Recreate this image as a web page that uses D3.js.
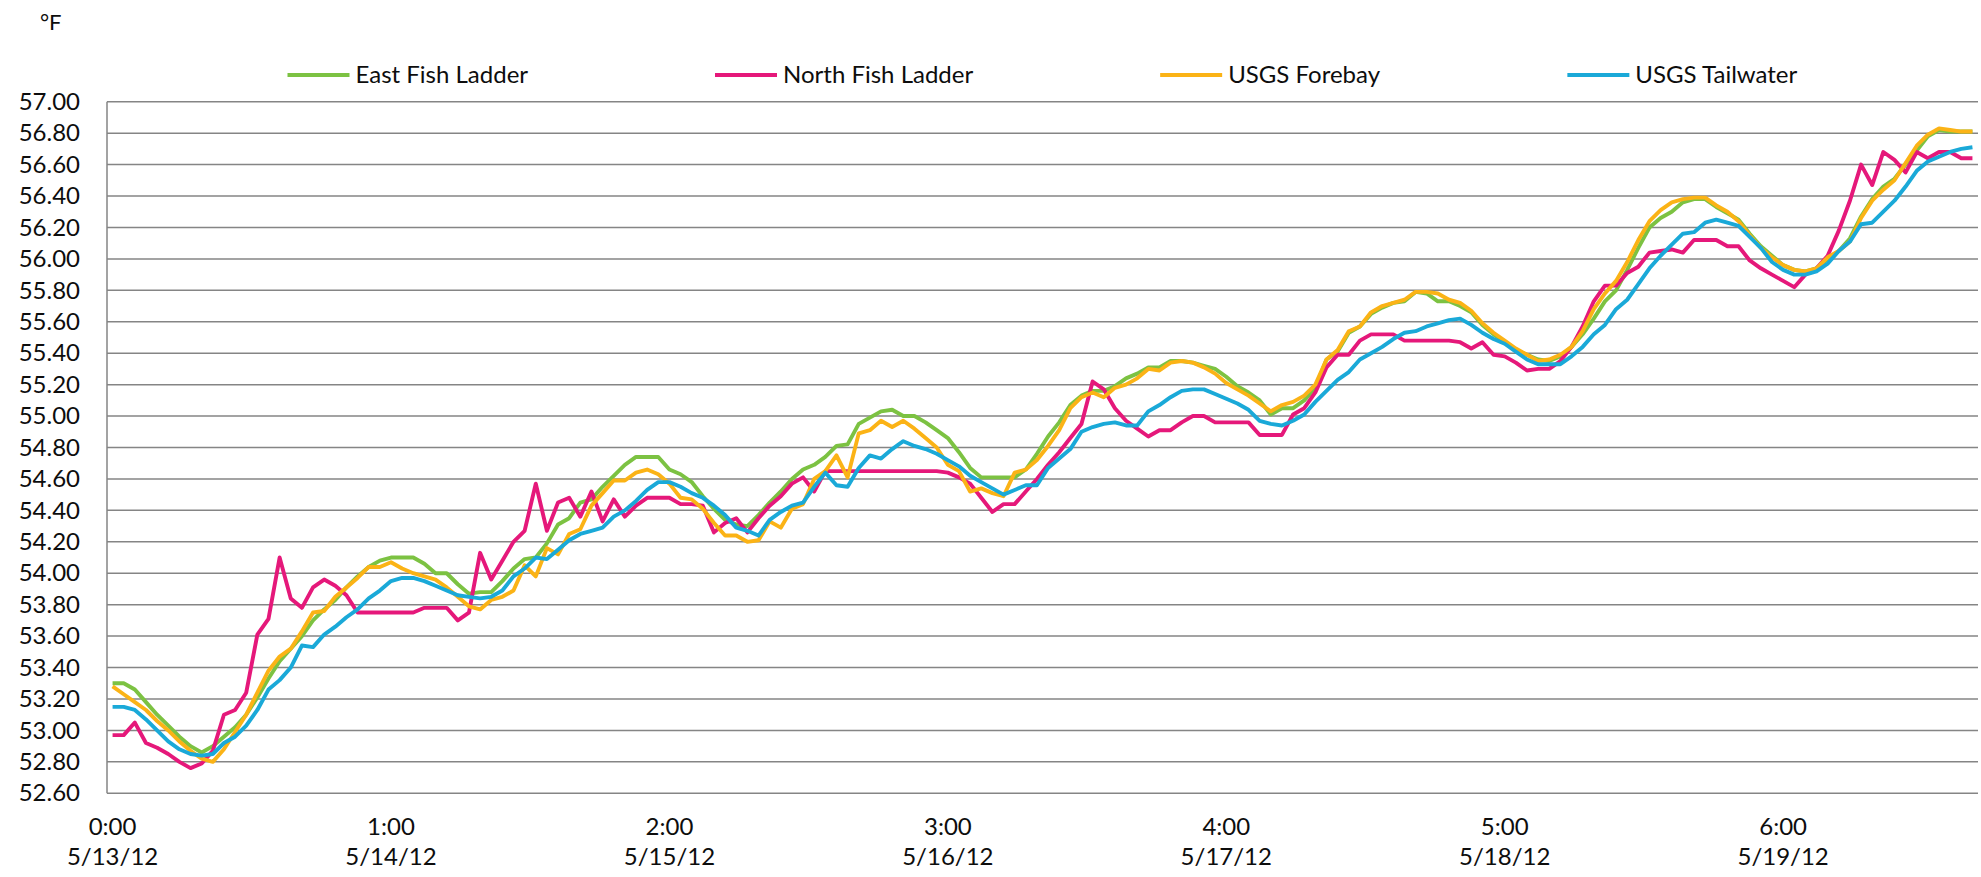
<!DOCTYPE html>
<html>
<head>
<meta charset="utf-8">
<script src="https://cdn.jsdelivr.net/npm/d3@7"></script>
<style>
  body { margin: 0; background: #fff; }
  svg { display: block; font-family: Lato, "Open Sans", sans-serif; }
</style>
</head>
<body>
<div id="wrapper"></div>
<script>
// Hourly readings, 0:00 5/13/12 through 23:00 5/19/12 (168 points)
const startTime = new Date(2012, 4, 13, 0, 0);
const hours = d3.range(168).map(h => d3.timeHour.offset(startTime, h));

const eastFishLadder = [
  53.30, 53.30, 53.26, 53.18, 53.10, 53.03, 52.96, 52.90, 52.86, 52.90, 52.96, 53.02, 53.10, 53.21,
  53.33, 53.44, 53.52, 53.60, 53.70, 53.77, 53.83, 53.91, 53.98, 54.04, 54.08, 54.10, 54.10, 54.10,
  54.06, 54.00, 54.00, 53.93, 53.87, 53.88, 53.88, 53.95, 54.03, 54.09, 54.10, 54.19, 54.31, 54.35,
  54.45, 54.47, 54.55, 54.62, 54.69, 54.74, 54.74, 54.74, 54.66, 54.63, 54.58, 54.49, 54.41, 54.34,
  54.31, 54.30, 54.37, 54.45, 54.52, 54.60, 54.66, 54.69, 54.74, 54.81, 54.82, 54.95, 54.99, 55.03,
  55.04, 55.00, 55.00, 54.96, 54.91, 54.86, 54.77, 54.67, 54.61, 54.61, 54.61, 54.61, 54.66, 54.76,
  54.87, 54.96, 55.07, 55.13, 55.16, 55.16, 55.19, 55.24, 55.27, 55.31, 55.31, 55.35, 55.35, 55.34,
  55.32, 55.30, 55.25, 55.19, 55.15, 55.10, 55.01, 55.05, 55.05, 55.10, 55.18, 55.36, 55.41, 55.53,
  55.57, 55.65, 55.69, 55.72, 55.73, 55.79, 55.78, 55.73, 55.73, 55.70, 55.66, 55.58, 55.52, 55.47,
  55.42, 55.39, 55.36, 55.35, 55.38, 55.44, 55.52, 55.62, 55.73, 55.80, 55.93, 56.07, 56.20, 56.26,
  56.30, 56.36, 56.38, 56.38, 56.33, 56.29, 56.25, 56.16, 56.08, 56.02, 55.96, 55.93, 55.92, 55.94,
  56.00, 56.05, 56.13, 56.27, 56.38, 56.46, 56.51, 56.60, 56.69, 56.78, 56.82, 56.81, 56.81, 56.81
];
const northFishLadder = [
  52.97, 52.97, 53.05, 52.92, 52.89, 52.85, 52.80, 52.76, 52.79, 52.87, 53.10, 53.13, 53.24, 53.61,
  53.71, 54.10, 53.84, 53.78, 53.91, 53.96, 53.92, 53.86, 53.75, 53.75, 53.75, 53.75, 53.75, 53.75,
  53.78, 53.78, 53.78, 53.70, 53.75, 54.13, 53.96, 54.08, 54.20, 54.27, 54.57, 54.27, 54.45, 54.48,
  54.36, 54.52, 54.33, 54.47, 54.36, 54.43, 54.48, 54.48, 54.48, 54.44, 54.44, 54.43, 54.26, 54.32,
  54.35, 54.26, 54.35, 54.43, 54.49, 54.57, 54.61, 54.52, 54.65, 54.65, 54.65, 54.65, 54.65, 54.65,
  54.65, 54.65, 54.65, 54.65, 54.65, 54.64, 54.61, 54.57, 54.48, 54.39, 54.44, 54.44, 54.52, 54.60,
  54.69, 54.77, 54.86, 54.95, 55.22, 55.17, 55.05, 54.97, 54.92, 54.87, 54.91, 54.91, 54.96, 55.00,
  55.00, 54.96, 54.96, 54.96, 54.96, 54.88, 54.88, 54.88, 55.01, 55.05, 55.15, 55.31, 55.39, 55.39,
  55.48, 55.52, 55.52, 55.52, 55.48, 55.48, 55.48, 55.48, 55.48, 55.47, 55.43, 55.47, 55.39, 55.38,
  55.34, 55.29, 55.30, 55.30, 55.35, 55.44, 55.57, 55.73, 55.83, 55.83, 55.91, 55.95, 56.04, 56.05,
  56.06, 56.04, 56.12, 56.12, 56.12, 56.08, 56.08, 55.99, 55.94, 55.90, 55.86, 55.82, 55.90, 55.94,
  56.02, 56.18, 56.37, 56.60, 56.47, 56.68, 56.63, 56.55, 56.68, 56.64, 56.68, 56.68, 56.64, 56.64
];
const usgsForebay = [
  53.28, 53.23, 53.18, 53.13, 53.06, 53.00, 52.93, 52.87, 52.82, 52.80, 52.88, 52.99, 53.10, 53.24,
  53.38, 53.47, 53.52, 53.63, 53.75, 53.76, 53.85, 53.91, 53.97, 54.04, 54.04, 54.07, 54.03, 54.00,
  53.98, 53.96, 53.91, 53.85, 53.79, 53.77, 53.83, 53.85, 53.89, 54.05, 53.98, 54.16, 54.12, 54.25,
  54.28, 54.43, 54.51, 54.59, 54.59, 54.64, 54.66, 54.63, 54.57, 54.48, 54.47, 54.41, 54.32, 54.24,
  54.24, 54.20, 54.21, 54.33, 54.29, 54.41, 54.44, 54.60, 54.65, 54.75, 54.61, 54.89, 54.91, 54.97,
  54.93, 54.97, 54.92, 54.86, 54.80, 54.69, 54.65, 54.52, 54.54, 54.51, 54.49, 54.64, 54.66, 54.72,
  54.81, 54.91, 55.05, 55.12, 55.15, 55.12, 55.18, 55.20, 55.24, 55.30, 55.29, 55.34, 55.35, 55.34,
  55.31, 55.27, 55.21, 55.17, 55.13, 55.08, 55.03, 55.07, 55.09, 55.13, 55.20, 55.36, 55.42, 55.54,
  55.57, 55.66, 55.70, 55.72, 55.74, 55.79, 55.79, 55.78, 55.74, 55.72, 55.67, 55.59, 55.53, 55.48,
  55.43, 55.39, 55.35, 55.36, 55.39, 55.44, 55.54, 55.68, 55.78, 55.86, 55.98, 56.12, 56.24, 56.31,
  56.36, 56.38, 56.39, 56.39, 56.34, 56.30, 56.24, 56.15, 56.07, 56.01, 55.96, 55.93, 55.92, 55.94,
  56.01, 56.05, 56.11, 56.26, 56.37, 56.44, 56.50, 56.61, 56.72, 56.79, 56.83, 56.82, 56.81, 56.81
];
const usgsTailwater = [
  53.15, 53.15, 53.13, 53.07, 53.00, 52.93, 52.88, 52.85, 52.84, 52.85, 52.92, 52.96, 53.03, 53.13,
  53.26, 53.32, 53.40, 53.54, 53.53, 53.61, 53.66, 53.72, 53.77, 53.84, 53.89, 53.95, 53.97, 53.97,
  53.95, 53.92, 53.89, 53.86, 53.85, 53.84, 53.85, 53.89, 53.98, 54.03, 54.10, 54.09, 54.15, 54.21,
  54.25, 54.27, 54.29, 54.36, 54.40, 54.46, 54.53, 54.58, 54.58, 54.55, 54.51, 54.48, 54.43, 54.37,
  54.29, 54.27, 54.24, 54.34, 54.39, 54.43, 54.45, 54.55, 54.64, 54.56, 54.55, 54.67, 54.75, 54.73,
  54.79, 54.84, 54.81, 54.79, 54.76, 54.72, 54.68, 54.62, 54.58, 54.54, 54.50, 54.53, 54.56, 54.56,
  54.67, 54.73, 54.79, 54.90, 54.93, 54.95, 54.96, 54.94, 54.94, 55.03, 55.07, 55.12, 55.16, 55.17,
  55.17, 55.14, 55.11, 55.08, 55.04, 54.97, 54.95, 54.94, 54.97, 55.01, 55.09, 55.16, 55.23, 55.28,
  55.36, 55.40, 55.44, 55.49, 55.53, 55.54, 55.57, 55.59, 55.61, 55.62, 55.58, 55.53, 55.49, 55.46,
  55.41, 55.36, 55.33, 55.33, 55.33, 55.38, 55.44, 55.52, 55.58, 55.68, 55.74, 55.84, 55.94, 56.02,
  56.09, 56.16, 56.17, 56.23, 56.25, 56.23, 56.21, 56.14, 56.07, 55.98, 55.93, 55.90, 55.90, 55.92,
  55.97, 56.05, 56.11, 56.22, 56.23, 56.30, 56.37, 56.46, 56.56, 56.62, 56.65, 56.68, 56.70, 56.71
];

const seriesNames = ["East Fish Ladder", "North Fish Ladder", "USGS Forebay", "USGS Tailwater"];
const seriesColors = ["#7cc242", "#e5187a", "#fbb316", "#1aa9d8"];
const seriesValues = [eastFishLadder, northFishLadder, usgsForebay, usgsTailwater];

const yTicks = [52.6, 52.8, 53.0, 53.2, 53.4, 53.6, 53.8, 54.0, 54.2, 54.4, 54.6, 54.8,
  55.0, 55.2, 55.4, 55.6, 55.8, 56.0, 56.2, 56.4, 56.6, 56.8, 57.0];
const xTickEvery = 25;
const xTickLabels = [
  ["0:00", "5/13/12"], ["1:00", "5/14/12"], ["2:00", "5/15/12"], ["3:00", "5/16/12"],
  ["4:00", "5/17/12"], ["5:00", "5/18/12"], ["6:00", "5/19/12"]
];
const unitLabel = "°F";

// Dimensions
const dimensions = {
  width: 1981,
  height: 877,
  margin: { top: 101.7, right: 3, bottom: 83.7, left: 107 },
};
dimensions.boundedWidth = dimensions.width - dimensions.margin.left - dimensions.margin.right;
dimensions.boundedHeight = dimensions.height - dimensions.margin.top - dimensions.margin.bottom;

const gridColor = "#858585";
const textColor = "#0d0d0d";
const fontSize = 24;
const lineWidth = 3.9;

const wrapper = d3.select("#wrapper")
  .append("svg")
  .attr("width", dimensions.width)
  .attr("height", dimensions.height);

const bounds = wrapper.append("g")
  .attr("transform", `translate(${dimensions.margin.left},${dimensions.margin.top})`);

// Scales
const xScale = d3.scaleBand()
  .domain(d3.range(hours.length))
  .range([0, dimensions.boundedWidth])
  .padding(0);
const yScale = d3.scaleLinear()
  .domain([52.6, 57.0])
  .range([dimensions.boundedHeight, 0]);
const xPos = i => xScale(i) + xScale.bandwidth() / 2;

// y axis labels and gridlines
const yAxisGenerator = d3.axisLeft(yScale)
  .tickValues(yTicks)
  .tickFormat(d => d.toFixed(2))
  .tickSize(0)
  .tickPadding(27);
const yAxis = bounds.append("g").call(yAxisGenerator);
yAxis.select(".domain").remove();
yAxis.selectAll("text")
  .attr("fill", textColor)
  .style("font-size", `${fontSize}px`)
  .style("font-family", "Lato, 'Open Sans', sans-serif");

bounds.append("g")
  .selectAll("line")
  .data(yTicks)
  .join("line")
  .attr("x1", 0)
  .attr("x2", dimensions.boundedWidth)
  .attr("y1", d => yScale(d))
  .attr("y2", d => yScale(d))
  .attr("stroke", gridColor)
  .attr("stroke-width", 1.5);

bounds.append("line")
  .attr("x1", 0).attr("x2", 0)
  .attr("y1", 0).attr("y2", dimensions.boundedHeight)
  .attr("stroke", gridColor)
  .attr("stroke-width", 1.5);

// x axis with two-line labels
const xTickValues = xTickLabels.map((_, k) => k * xTickEvery);
const xAxisGenerator = d3.axisBottom(xScale)
  .tickValues(xTickValues)
  .tickSize(0)
  .tickFormat("");
const xAxis = bounds.append("g")
  .attr("transform", `translate(0,${dimensions.boundedHeight})`)
  .call(xAxisGenerator);
xAxis.select(".domain").remove();
xAxis.selectAll(".tick text")
  .attr("y", 0)
  .attr("dy", null)
  .attr("fill", textColor)
  .style("font-size", `${fontSize}px`)
  .style("font-family", "Lato, 'Open Sans', sans-serif")
  .each(function (d) {
    const lines = xTickLabels[d / xTickEvery];
    d3.select(this).selectAll("tspan")
      .data(lines)
      .join("tspan")
      .attr("x", 0)
      .attr("y", (l, j) => 42 + j * 30)
      .text(l => l);
  });

// Lines
const lineGenerator = d3.line()
  .x((d, i) => xPos(i))
  .y(d => yScale(d));

bounds.append("g")
  .selectAll("path")
  .data(seriesValues)
  .join("path")
  .attr("d", d => lineGenerator(d))
  .attr("fill", "none")
  .attr("stroke", (d, i) => seriesColors[i])
  .attr("stroke-width", lineWidth)
  .attr("stroke-linejoin", "round")
  .attr("stroke-linecap", "butt");

// Unit label
wrapper.append("text")
  .attr("x", 40)
  .attr("y", 30)
  .attr("fill", textColor)
  .style("font-size", "22px")
  .text(unitLabel);

// Legend, centred over the plot
const legendLine = 62;
const legendGap = 6;
const legendSpan = 1510;
const legend = wrapper.append("g")
  .attr("transform", `translate(0,75)`);
const items = legend.selectAll("g")
  .data(seriesNames)
  .join("g");
items.append("line")
  .attr("x1", 0).attr("x2", legendLine)
  .attr("y1", 0).attr("y2", 0)
  .attr("stroke", (d, i) => seriesColors[i])
  .attr("stroke-width", lineWidth);
items.append("text")
  .attr("x", legendLine + legendGap)
  .attr("dy", "0.35em")
  .attr("fill", textColor)
  .style("font-size", `${fontSize}px`)
  .text(d => d);
const itemWidths = items.nodes().map(n => n.getBBox().width);
const spacing = (legendSpan - d3.sum(itemWidths)) / (seriesNames.length - 1);
let cursor = dimensions.margin.left + dimensions.boundedWidth / 2 - legendSpan / 2;
items.attr("transform", (d, i) => {
  const x = cursor;
  cursor += itemWidths[i] + spacing;
  return `translate(${x},0)`;
});
</script>
</body>
</html>
